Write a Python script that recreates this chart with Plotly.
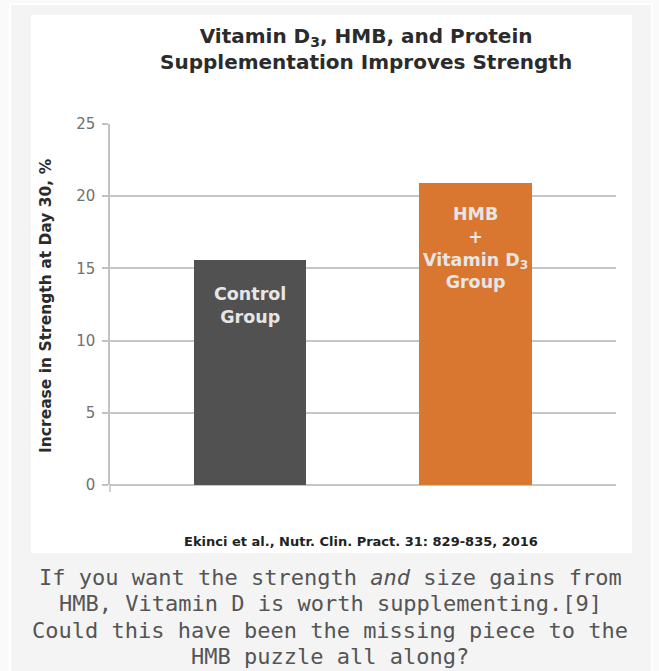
import plotly.graph_objects as go

# ---- data ----
groups = ["Control Group", "HMB + Vitamin D3 Group"]
increase_pct = [15.6, 20.9]
bar_labels = ["Control<br>Group", "HMB<br>+<br>Vitamin D<sub>3</sub><br>Group"]
y_ticks = [0, 5, 10, 15, 20, 25]

title_text = "Vitamin D<sub>3</sub>, HMB, and Protein<br>Supplementation Improves Strength"
y_title = "Increase in Strength at Day 30, %"
source = "Ekinci et al., Nutr. Clin. Pract. 31: 829-835, 2016"
caption_lines = [
    "If you want the strength <i>and</i> size gains from",
    "HMB, Vitamin D is worth supplementing.[9]",
    "Could this have been the missing piece to the",
    "HMB puzzle all along?",
]

# ---- geometry (pixels) ----
W, H = 659, 671
PL, PR, PT, PB = 110, 616, 124, 485


def px(x):
    return (x - PL) / (PR - PL)


def py(y):
    return (PB - y) / (PB - PT)


SANS = "DejaVu Sans"
colors = ["#515151", "#d97731"]

fig = go.Figure()
fig.add_trace(go.Bar(
    x=[0, 1], y=increase_pct, width=0.5,
    marker=dict(color=colors, line=dict(width=0)),
    hoverinfo="skip", showlegend=False,
))

shapes = [
    # outer card
    dict(type="rect", xref="paper", yref="paper", x0=px(10), x1=px(652), y0=py(4), y1=py(700),
         fillcolor="#f4f4f4", line=dict(color="#ffffff", width=2), layer="below"),
    # white chart image area
    dict(type="rect", xref="paper", yref="paper", x0=px(31), x1=px(632), y0=py(15), y1=py(553),
         fillcolor="#ffffff", line=dict(width=0), layer="below"),
    # axis line overhang below zero
    dict(type="line", xref="paper", yref="paper", x0=0, x1=0, y0=0, y1=py(492),
         line=dict(color="#c2c2c2", width=1.5)),
]

annotations = []
# title
annotations.append(dict(text=title_text, xref="paper", yref="paper", x=px(366), y=py(49),
                        xanchor="center", yanchor="middle", showarrow=False,
                        font=dict(family=SANS, size=20, color="#2b2b2b", weight="bold")))
# y title
annotations.append(dict(text=y_title, xref="paper", yref="paper", x=px(46), y=py(306),
                        xanchor="center", yanchor="middle", textangle=-90, showarrow=False,
                        font=dict(family=SANS, size=15.5, color="#2b2b2b", weight="bold")))
# bar labels
for i, (lab, v) in enumerate(zip(bar_labels, increase_pct)):
    annotations.append(dict(text=lab, x=i, y=v, xref="x", yref="y", xanchor="center", yanchor="top",
                            yshift=-22 if i == 0 else -19, showarrow=False,
                            font=dict(family=SANS, size=17.5, color="#e6e6e6", weight="bold")))
# source
annotations.append(dict(text=source, xref="paper", yref="paper", x=px(361), y=py(541),
                        xanchor="center", yanchor="middle", showarrow=False,
                        font=dict(family=SANS, size=13, color="#222222", weight="bold")))
# caption
for t, yy in zip(caption_lines, [577, 603, 630, 656]):
    annotations.append(dict(text=t, xref="paper", yref="paper", x=px(330), y=py(yy),
                            xanchor="center", yanchor="middle", showarrow=False, height=26,
                            font=dict(family="DejaVu Sans Mono", size=22, color="#555555")))

fig.update_layout(
    width=W, height=H,
    margin=dict(l=PL, r=W - PR, t=PT, b=H - PB, pad=0),
    paper_bgcolor="#fafafa", plot_bgcolor="#e0e0e0",
    shapes=shapes, annotations=annotations,
    bargap=0,
)
fig.update_xaxes(range=[-0.621, 1.624], showticklabels=False, showgrid=False,
                 zeroline=False, showline=False, ticks="", fixedrange=True)
fig.update_yaxes(range=[0, 25], tickvals=y_ticks, showgrid=True, gridcolor="#c6c6c6", gridwidth=1.5,
                 zeroline=True, zerolinecolor="#c6c6c6", zerolinewidth=1.5,
                 showline=True, linecolor="#c2c2c2", linewidth=1.5,
                 ticks="outside", ticklen=6, tickcolor="#c2c2c2", tickwidth=1.5,
                 ticklabelstandoff=4,
                 tickfont=dict(family=SANS, size=15, color="#707070"), fixedrange=True)

fig.write_html("out.html", config={"displayModeBar": False},
               post_script="document.body.style.margin='0';document.body.style.background='#fafafa';")
